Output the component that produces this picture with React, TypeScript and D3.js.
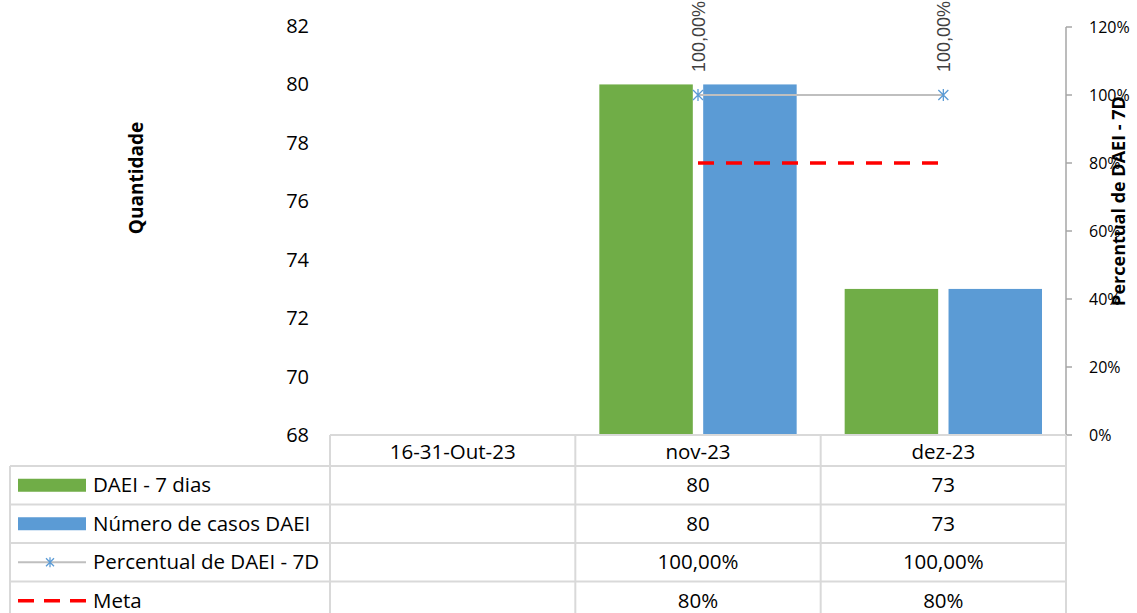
import React from 'react';
import * as d3 from 'd3';

const categories = ['16-31-Out-23', 'nov-23', 'dez-23'];
const daei7: (number | null)[] = [null, 80, 73];
const numeroCasos: (number | null)[] = [null, 80, 73];
const percentual: (number | null)[] = [null, 1.0, 1.0];
const meta: (number | null)[] = [null, 0.8, 0.8];
const leftTicks = [68, 70, 72, 74, 76, 78, 80, 82];
const rightTicks = [0, 0.2, 0.4, 0.6, 0.8, 1.0, 1.2];
const seriesNames = ['DAEI - 7 dias', 'Número de casos DAEI', 'Percentual de DAEI - 7D', 'Meta'];
const title = 'Tempo para Diagnóstico (DAEI) segundo o período';

const W = 1137;
const H = 613;
const FONT = '"Open Sans", Lato, sans-serif';
const GREEN = '#70ad47';
const BLUE = '#5b9bd5';
const GRID = '#d9d9d9';

export default function App() {
  const plotL = 330, plotR = 1066, plotT = 26, plotB = 435;
  const x = d3.scaleBand<string>().domain(categories).range([plotL, plotR]).padding(0);
  const bw = x.bandwidth();
  const inner = d3.scaleBand<string>().domain(['a', 'b']).range([24, bw - 24]).paddingInner(0.1).paddingOuter(0);
  const yL = d3.scaleLinear().domain([68, 82]).range([plotB, plotT]);
  const yR = d3.scaleLinear().domain([0, 1.2]).range([plotB, 27]);
  const cx = (i: number) => (x(categories[i]) as number) + bw / 2;

  const pctPts = percentual.map((v, i) => (v == null ? null : [cx(i), yR(v)] as [number, number])).filter(Boolean) as [number, number][];
  const metaPts = meta.map((v, i) => (v == null ? null : [cx(i), yR(v)] as [number, number])).filter(Boolean) as [number, number][];
  const line = d3.line<[number, number]>();

  const fmtPct2 = (v: number) => d3.format('.2f')(v * 100).replace('.', ',') + '%';
  const fmtPct0 = (v: number) => d3.format('.0f')(v * 100) + '%';

  const asterisk = (px: number, py: number, r = 5) =>
    `M${px - r},${py - r}L${px + r},${py + r}M${px - r},${py + r}L${px + r},${py - r}M${px},${py - r - 1}L${px},${py + r + 1}`;

  const tableLeft = 10;
  const headerTop = plotB;
  const headerBot = 466;
  const rowH = 38.5;
  const rows = [
    { name: seriesNames[0], vals: daei7.map(v => (v == null ? '' : String(v))) },
    { name: seriesNames[1], vals: numeroCasos.map(v => (v == null ? '' : String(v))) },
    { name: seriesNames[2], vals: percentual.map(v => (v == null ? '' : fmtPct2(v))) },
    { name: seriesNames[3], vals: meta.map(v => (v == null ? '' : fmtPct0(v))) },
  ];
  const colEdges = [plotL, ...categories.map(c => (x(c) as number) + bw)];
  const TS = 20.5;

  return (
    <svg width={W} height={H} style={{ position: 'absolute', left: 0, top: 0, background: '#fff' }} fontFamily={FONT}>
      <rect x={0} y={0} width={W} height={H} fill="#fff" />
      <text x={400} y={-6} textAnchor="middle" fontSize={20} fontWeight="bold" fill="#000">{title}</text>

      {leftTicks.map(t => (
        <text key={t} x={309} y={yL(t)} dy="0.35em" textAnchor="end" fontSize={20} fill="#000">{t}</text>
      ))}
      <text transform={`translate(136,${178}) rotate(-90)`} textAnchor="middle" fontSize={19} fontWeight="bold" dy="0.35em">Quantidade</text>

      <line x1={plotR} x2={plotR} y1={yR(1.2)} y2={plotB + 6} stroke="#a6a6a6" strokeWidth={1.5} />
      {rightTicks.map(t => (
        <g key={t}>
          <line x1={plotR} x2={plotR + 6} y1={yR(t)} y2={yR(t)} stroke="#a6a6a6" strokeWidth={1.5} />
          <text x={1089} y={yR(t)} dy="0.35em" fontSize={16} fill="#000">{fmtPct0(t)}</text>
        </g>
      ))}

      {categories.map((c, i) => (
        <g key={c}>
          {daei7[i] != null && (
            <rect x={(x(c) as number) + (inner('a') as number)} y={yL(daei7[i] as number)} width={inner.bandwidth()} height={plotB - yL(daei7[i] as number)} fill={GREEN} />
          )}
          {numeroCasos[i] != null && (
            <rect x={(x(c) as number) + (inner('b') as number)} y={yL(numeroCasos[i] as number)} width={inner.bandwidth()} height={plotB - yL(numeroCasos[i] as number)} fill={BLUE} />
          )}
        </g>
      ))}

      <path d={line(pctPts) || ''} fill="none" stroke="#bfbfbf" strokeWidth={2} />
      {pctPts.map((p, i) => (
        <path key={i} d={asterisk(p[0], p[1])} stroke={BLUE} strokeWidth={1.3} fill="none" />
      ))}
      {percentual.map((v, i) =>
        v == null ? null : (
          <text key={i} transform={`translate(${cx(i) + 7},${yR(v) - 23}) rotate(-90)`} fontSize={18} fontFamily='"Liberation Sans", Arial, sans-serif' fill="#404040">{fmtPct2(v)}</text>
        )
      )}

      <path d={line(metaPts) || ''} fill="none" stroke="#ff0000" strokeWidth={3.5} strokeDasharray="16 12" />

      <g stroke={GRID} strokeWidth={2} fill="none">
        <line x1={plotL} x2={plotR} y1={headerTop} y2={headerTop} />
        <line x1={tableLeft} x2={plotR} y1={headerBot} y2={headerBot} />
        {rows.map((_, r) => (
          <line key={r} x1={tableLeft} x2={plotR} y1={headerBot + rowH * (r + 1)} y2={headerBot + rowH * (r + 1)} />
        ))}
        <line x1={tableLeft} x2={tableLeft} y1={headerBot} y2={H} />
        {colEdges.map((e, i) => (
          <line key={i} x1={e} x2={e} y1={headerTop} y2={H} />
        ))}
      </g>
      {categories.map(c => (
        <text key={c} x={(x(c) as number) + bw / 2} y={(headerTop + headerBot) / 2 + 1} dy="0.35em" textAnchor="middle" fontSize={TS}>{c}</text>
      ))}
      {rows.map((row, r) => {
        const ym = headerBot + rowH * r + rowH / 2;
        return (
          <g key={r}>
            {r === 0 && <rect x={18} y={ym - 6.5} width={68} height={13} fill={GREEN} />}
            {r === 1 && <rect x={18} y={ym - 6.5} width={68} height={13} fill={BLUE} />}
            {r === 2 && (
              <g>
                <line x1={18} x2={86} y1={ym} y2={ym} stroke="#bfbfbf" strokeWidth={2} />
                <path d={asterisk(50, ym, 4)} stroke={BLUE} strokeWidth={1.3} fill="none" />
              </g>
            )}
            {r === 3 && <line x1={18} x2={86} y1={ym} y2={ym} stroke="#ff0000" strokeWidth={3.5} strokeDasharray="16 10" />}
            <text x={93} y={ym} dy="0.35em" fontSize={TS}>{row.name}</text>
            {row.vals.map((v, i) => (
              <text key={i} x={cx(i)} y={ym} dy="0.35em" textAnchor="middle" fontSize={TS}>{v}</text>
            ))}
          </g>
        );
      })}
      <text transform={`translate(1119,${201}) rotate(-90)`} textAnchor="middle" fontSize={18} fontWeight="bold" dy="0.35em">Percentual de DAEI - 7D</text>
    </svg>
  );
}
